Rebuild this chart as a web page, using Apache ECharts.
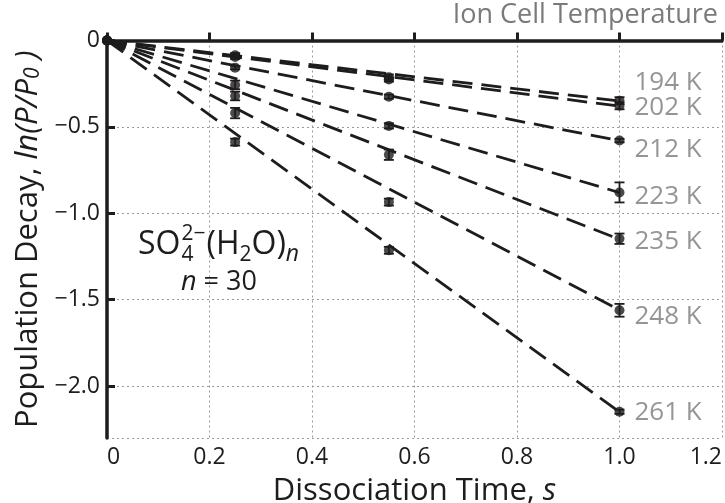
<!DOCTYPE html>
<html><head><meta charset="utf-8">
<script src="https://cdn.jsdelivr.net/npm/echarts@6/dist/echarts.min.js"></script>
<style>html,body{margin:0;padding:0;background:#fff}#c{width:725px;height:503px}</style>
</head><body><div id="c"></div>
<script>
// ---- data ----
const times = [0, 0.25, 0.55, 1.0];
const temps = ['194 K', '202 K', '212 K', '223 K', '235 K', '248 K', '261 K'];
const v194 = [0, -0.085, -0.212, -0.348];
const v202 = [0, -0.095, -0.226, -0.378];
const v212 = [0, -0.157, -0.325, -0.579];
const v223 = [0, -0.257, -0.494, -0.879];
const v235 = [0, -0.321, -0.661, -1.147];
const v248 = [0, -0.420, -0.935, -1.561];
const v261 = [0, -0.588, -1.214, -2.148];
const e194 = [0, 0.012, 0.015, 0.02];
const e202 = [0, 0.012, 0.012, 0.02];
const e212 = [0, 0.01, 0.012, 0.01];
const e223 = [0, 0.025, 0.015, 0.058];
const e235 = [0, 0.025, 0.03, 0.03];
const e248 = [0, 0.03, 0.02, 0.037];
const e261 = [0, 0.02, 0.02, 0.012];
// fitted slopes (ln(P/P0) per second) for the dashed lines
const fitSlopes = [-0.350, -0.380, -0.580, -0.880, -1.150, -1.560, -2.150];
const fitEnd = 1.0;
const xTicks = [0, 0.2, 0.4, 0.6, 0.8, 1.0, 1.2];
const yTicks = [0, -0.5, -1.0, -1.5, -2.0];

const values = [v194, v202, v212, v223, v235, v248, v261];
const errors = [e194, e202, e212, e223, e235, e248, e261];
const labelDy = [-18, 2, 9, 4, 3, 6, 1];

const FONT = '"Open Sans", sans-serif';
const INK = '#1e1c1d';
const GRAY = '#7a7a7a';

const chart = echarts.init(document.getElementById('c'), null, {renderer: 'canvas'});

const series = [];
values.forEach((vals, i) => {
  series.push({
    type: 'line', silent: true, symbol: 'none', z: 2,
    data: [[0, 0], [fitEnd, fitSlopes[i]]],
    lineStyle: {color: INK, width: 2.8, type: [20, 9]}
  });
  series.push({
    type: 'custom', silent: true, z: 3, clip: false,
    data: times.map((t, j) => [t, vals[j], errors[i][j]]).filter(d => d[2] > 0),
    renderItem: function (params, api) {
      const x = api.value(0), y = api.value(1), e = api.value(2);
      const hi = api.coord([x, y + e]);
      const lo = api.coord([x, y - e]);
      const w = 5;
      const st = {stroke: INK, lineWidth: 1.8};
      return {type: 'group', children: [
        {type: 'line', shape: {x1: hi[0], y1: hi[1], x2: lo[0], y2: lo[1]}, style: st},
        {type: 'line', shape: {x1: hi[0] - w, y1: hi[1], x2: hi[0] + w, y2: hi[1]}, style: st},
        {type: 'line', shape: {x1: lo[0] - w, y1: lo[1], x2: lo[0] + w, y2: lo[1]}, style: st}
      ]};
    }
  });
  series.push({
    type: 'scatter', z: 4, clip: false, symbolSize: 10,
    itemStyle: {color: INK},
    data: times.map((t, j) => {
      if (j === times.length - 1) {
        return {value: [t, vals[j]], label: {
          show: true, formatter: temps[i], position: 'right', distance: 10,
          offset: [0, labelDy[i]], color: GRAY, fontSize: 26, fontFamily: FONT
        }};
      }
      return [t, vals[j]];
    })
  });
});

// annotation text measurement
const mctx = document.createElement('canvas').getContext('2d');
function tw(text, size, italic) {
  mctx.font = (italic ? 'italic ' : '') + size + 'px ' + FONT;
  return mctx.measureText(text).width;
}
function txt(text, x, baseline, size, italic, color, align) {
  return {type: 'text', z: 10, silent: true, style: {
    text: text, x: x, y: baseline - 0.36 * size,
    font: (italic ? 'italic ' : '') + size + 'px ' + FONT,
    fill: color || INK, textAlign: align || 'left', textVerticalAlign: 'middle',
    align: align || 'left', verticalAlign: 'middle'
  }};
}
const big = 32, small = 21;
const ax = 138, ab = 256;
const g = [];
let cx = ax;
g.push(txt('SO', cx, ab, big)); cx += tw('SO', big);
g.push(txt('2\u2212', cx + 1, ab - 14, small));
g.push(txt('4', cx + 1, ab + 7, small));
cx += Math.max(tw('2\u2212', small), tw('4', small)) + 2;
g.push(txt('(H', cx, ab, big)); cx += tw('(H', big);
g.push(txt('2', cx, ab + 7, small)); cx += tw('2', small);
g.push(txt('O)', cx, ab, big)); cx += tw('O)', big);
g.push(txt('n', cx, ab + 7, small + 2, true));
// second line
let cx2 = 181; const b2 = 292, s2 = 27;
g.push(txt('n', cx2, b2, s2, true)); cx2 += tw('n', s2, true);
g.push(txt(' = 30', cx2, b2, s2));
g.push(txt('Ion Cell Temperature', 718, 25, 27, false, GRAY, 'right'));

const option = {
  animation: false,
  grid: {left: 107, right: 3, top: 40.5, bottom: 65, containLabel: false, outerBoundsMode: 'none'},
  xAxis: {
    type: 'value', min: xTicks[0], max: xTicks[xTicks.length - 1], interval: 0.2,
    name: 'Dissociation Time, {i|s}', nameLocation: 'middle', nameGap: 38,
    nameTextStyle: {fontSize: 31, color: INK, fontFamily: FONT,
      rich: {i: {fontSize: 31, fontStyle: 'italic', color: INK, fontFamily: FONT}}},
    axisLine: {show: true, lineStyle: {color: INK, width: 3.5}},
    axisTick: {show: true, inside: true, length: 8, lineStyle: {color: INK, width: 3}},
    axisLabel: {fontSize: 23, color: INK, fontFamily: FONT, margin: 8,
      alignMinLabel: 'left', alignMaxLabel: 'right',
      formatter: v => (v === 0 ? '0' : v.toFixed(1))},
    splitLine: {show: true, lineStyle: {color: '#9a9a9a', width: 1, type: [2, 3]}}
  },
  yAxis: {
    type: 'value', min: -2.3, max: yTicks[0], splitNumber: 5, minInterval: 0.5, maxInterval: 0.5,
    name: 'Population Decay, {i|ln(P/P}{s|0}{i| )}', nameLocation: 'middle', nameGap: 62,
    nameTextStyle: {fontSize: 31, color: INK, fontFamily: FONT,
      rich: {
        i: {fontSize: 31, fontStyle: 'italic', color: INK, fontFamily: FONT},
        s: {fontSize: 21, fontStyle: 'italic', color: INK, fontFamily: FONT, lineHeight: 12, verticalAlign: 'bottom'}
      }},
    axisLine: {show: true, lineStyle: {color: INK, width: 3.5}},
    axisTick: {show: true, inside: true, length: 8, lineStyle: {color: INK, width: 3}},
    axisLabel: {fontSize: 23, color: INK, fontFamily: FONT, margin: 7, showMinLabel: false,
      formatter: v => (yTicks.indexOf(v) < 0 ? '' : (v === 0 ? '0' : '\u2212' + Math.abs(v).toFixed(1)))},
    splitLine: {show: true, lineStyle: {color: '#9a9a9a', width: 1, type: [2, 3]}}
  },
  graphic: g,
  series: series
};
chart.setOption(option);
</script>
</body></html>
